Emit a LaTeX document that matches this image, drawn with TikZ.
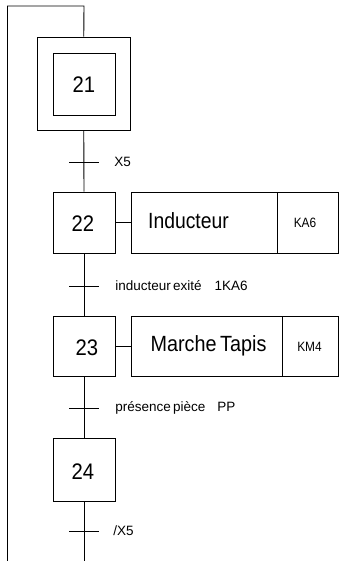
\documentclass[tikz,border=0pt]{standalone}
\usepackage{fontspec}
\setmainfont{Liberation Sans}
\newcommand{\fsStep}{\fontsize{22.5}{22.5}\selectfont}
\newcommand{\fsAct}{\fontsize{22}{22}\selectfont}
\newcommand{\fsKey}{\fontsize{13.5}{13.5}\selectfont}
\newcommand{\fsTr}{\fontsize{13.5}{13.5}\selectfont}
\begin{document}
\begin{tikzpicture}[x=1pt,y=-1pt,line width=0.9pt,
  boxn/.style={draw,inner sep=0pt},
  txt/.style={inner sep=0pt},
  trlab/.style={inner sep=0pt,anchor=west,font=\fsTr}]
\useasboundingbox (0,0) rectangle (339,561);
% steps
\node[boxn,minimum width=92.5pt,minimum height=93pt] (s21o) at (83.75,83.5) {};
\node[boxn,minimum width=62pt,minimum height=62pt] (s21) at (84,84) {};
\node[boxn,minimum width=62pt,minimum height=61pt] (s22) at (84,222.5) {};
\node[boxn,minimum width=62pt,minimum height=60pt] (s23) at (84,346) {};
\node[boxn,minimum width=62pt,minimum height=63pt] (s24) at (84,469.5) {};
\node[txt,font=\fsStep] (n21) at (84,85) {\scalebox{0.9}[1]{21}};
\node[txt,font=\fsStep] (n22) at (83,224) {\scalebox{0.9}[1]{22}};
\node[txt,font=\fsStep] (n23) at (87,348) {\scalebox{0.9}[1]{23}};
\node[txt,font=\fsStep] (n24) at (83,472) {\scalebox{0.9}[1]{24}};
% actions
\node[boxn,minimum width=146pt,minimum height=61pt] (a22) at (204,222.5) {};
\node[boxn,minimum width=61pt,minimum height=61pt] (k22) at (307.5,222.5) {};
\node[boxn,minimum width=151pt,minimum height=60pt] (a23) at (206.5,346) {};
\node[boxn,minimum width=56pt,minimum height=60pt] (k23) at (310,346) {};
\node[txt,font=\fsAct] (la22) at (188.5,221) {\scalebox{0.88}[1]{Inducteur}};
\node[txt,font=\fsKey] (lk22) at (305,223) {\scalebox{0.88}[1]{KA6}};
\node[txt,font=\fsAct] (la23) at (208.5,346) {\scalebox{0.9}[1]{Marche\hspace{-2pt} Tapis}};
\node[txt,font=\fsKey] (lk23) at (309.5,347) {\scalebox{0.88}[1]{KM4}};
\draw (s22.east) -- (a22.west);
\draw (s23.east) -- (a23.west);
% transitions
\coordinate (t1) at (84,162);
\coordinate (t2) at (84,286);
\coordinate (t3) at (84,408);
\coordinate (t4) at (84,531);
\foreach \t in {t1,t2,t3,t4} \draw ([xshift=-15pt]\t) -- ([xshift=15pt]\t);
\node[trlab] (l1) at (114,162) {X5};
\node[trlab] (l2) at (115,286) {inducteur\hspace{-1.5pt} exité\hspace{13pt}1KA6};
\node[trlab] (l3) at (115,408) {présence\hspace{-1.5pt} pièce\hspace{12pt}PP};
\node[trlab] (l4) at (113,531) {/X5};
% links
\coordinate (top) at (84,6);
\coordinate (topl) at (7.5,6);
\coordinate (botl) at (7.5,561);
\coordinate (bot) at (84,561);
\draw (botl) -- (topl) -- (top) -- (s21o.north);
\draw (s21o.south) -- (s22.north);
\draw (s22.south) -- (s23.north);
\draw (s23.south) -- (s24.north);
\draw (s24.south) -- (bot);
\end{tikzpicture}
\end{document}
